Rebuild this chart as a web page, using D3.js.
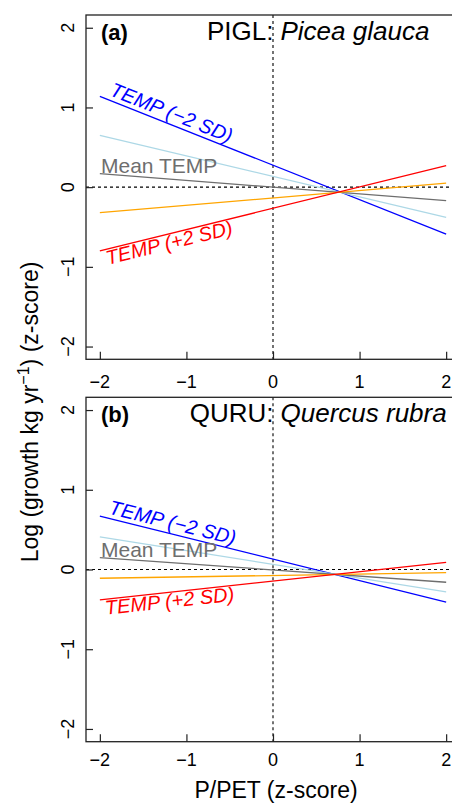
<!DOCTYPE html>
<html>
<head>
<meta charset="utf-8">
<script src="https://cdn.jsdelivr.net/npm/d3@7"></script>
<style>
  html, body { margin: 0; padding: 0; background: #fff; }
  svg { display: block; font-family: "Liberation Sans", Arial, Helvetica, sans-serif; }
</style>
</head>
<body>
<svg id="chart" width="452" height="803"></svg>
<script>
// ---------------- data ----------------
const pPET = [-2, 2];                       // x positions of line end points (z-score)
const xTicks = [-2, -1, 0, 1, 2];
const yTicks = [-2, -1, 0, 1, 2];
const seriesNames = ["TEMP (−2 SD)", "TEMP (−1 SD)", "Mean TEMP", "TEMP (+1 SD)", "TEMP (+2 SD)"];
const seriesColors = ["#0000ff", "#add8e6", "#6e6e6e", "#ffa500", "#ff0000"];

// PIGL: Picea glauca
const piglCold2 = [1.14, -0.59];
const piglCold1 = [0.65, -0.38];
const piglMean  = [0.17, -0.17];
const piglWarm1 = [-0.32, 0.05];
const piglWarm2 = [-0.80, 0.27];

// QURU: Quercus rubra
const quruCold2 = [0.67, -0.41];
const quruCold1 = [0.41, -0.28];
const quruMean  = [0.15, -0.16];
const quruWarm1 = [-0.11, -0.04];
const quruWarm2 = [-0.38, 0.09];

const panelLetters = ["(a)", "(b)"];
const panelCodes = ["PIGL:", "QURU:"];
const panelSpecies = ["Picea glauca", "Quercus rubra"];
const panelSeries = [
  [piglCold2, piglCold1, piglMean, piglWarm1, piglWarm2],
  [quruCold2, quruCold1, quruMean, quruWarm1, quruWarm2]
];

// ---------------- layout ----------------
const svg = d3.select("#chart");
const left = 86, right = 460;
const panels = [
  { top: 15, bottom: 359.3, tickLabelOffset: 29 },
  { top: 397.3, bottom: 741.7, tickLabelOffset: 24.6 }
];
const x = d3.scaleLinear().domain([-2.16, 2.16]).range([left, right]);

panels.forEach((p, pi) => {
  const y = d3.scaleLinear().domain([-2.16, 2.16]).range([p.bottom, p.top]);
  const g = svg.append("g");

  // reference dashed lines
  g.append("line")
    .attr("x1", left).attr("x2", right)
    .attr("y1", y(0)).attr("y2", y(0))
    .attr("stroke", "#000").attr("stroke-width", 1.1).attr("stroke-dasharray", "3,3");
  g.append("line")
    .attr("x1", x(0)).attr("x2", x(0))
    .attr("y1", p.top).attr("y2", p.bottom)
    .attr("stroke", "#000").attr("stroke-width", 1.1).attr("stroke-dasharray", "3,3");

  // series lines
  const line = d3.line().x((d, i) => x(pPET[i])).y(d => y(d));
  panelSeries[pi].forEach((vals, si) => {
    g.append("path")
      .datum(vals)
      .attr("d", line)
      .attr("fill", "none")
      .attr("stroke", seriesColors[si])
      .attr("stroke-width", 1.3);
  });

  // box
  g.append("rect")
    .attr("x", left).attr("y", p.top)
    .attr("width", right - left).attr("height", p.bottom - p.top)
    .attr("fill", "none").attr("stroke", "#222").attr("stroke-width", 1.3);

  // x ticks (inward) + labels
  const xAxis = d3.axisTop(x).tickValues(xTicks).tickSize(7.5).tickFormat("");
  g.append("g").attr("transform", `translate(0,${p.bottom})`).call(xAxis)
    .call(a => a.select(".domain").remove())
    .call(a => a.selectAll("line").attr("stroke", "#222").attr("stroke-width", 1.2));
  g.selectAll(".xlab").data(xTicks).enter().append("text")
    .attr("x", d => x(d)).attr("y", p.bottom + p.tickLabelOffset)
    .attr("text-anchor", "middle").attr("font-size", 18)
    .text(d => d < 0 ? "−" + Math.abs(d) : d);

  // y ticks (inward) + rotated labels
  const yAxis = d3.axisRight(y).tickValues(yTicks).tickSize(7).tickFormat("");
  g.append("g").attr("transform", `translate(${left},0)`).call(yAxis)
    .call(a => a.select(".domain").remove())
    .call(a => a.selectAll("line").attr("stroke", "#222").attr("stroke-width", 1.2));
  g.selectAll(".ylab").data(yTicks).enter().append("text")
    .attr("transform", d => `translate(74,${y(d)}) rotate(-90)`)
    .attr("text-anchor", "middle").attr("font-size", 18)
    .text(d => d < 0 ? "−" + Math.abs(d) : d);

  // panel letter
  g.append("text").attr("x", 101).attr("y", p.top + 24.5)
    .attr("font-size", 22).attr("font-weight", "bold").text(panelLetters[pi]);
  // species title, colon aligned at x = 0
  g.append("text").attr("x", x(0) + 0.5).attr("y", p.top + 25)
    .attr("text-anchor", "end").attr("font-size", 26).text(panelCodes[pi]);
  g.append("text").attr("x", x(0) + 7.5).attr("y", p.top + 25)
    .attr("font-size", 26).attr("font-style", "italic").text(panelSpecies[pi]);

  // in-plot series labels
  const vals = panelSeries[pi];
  const lineY = (v, px) => {
    const xv = x.invert(px);
    return y(v[0] + (v[1] - v[0]) * (xv - pPET[0]) / (pPET[1] - pPET[0]));
  };
  const angle = v => Math.atan2(y(v[1]) - y(v[0]), x(pPET[1]) - x(pPET[0])) * 180 / Math.PI;

  // cold label (above line)
  const cold = vals[0];
  g.append("text")
    .attr("transform", `translate(107,${lineY(cold, 107)}) rotate(${angle(cold)})`)
    .attr("dy", -4.5)
    .attr("font-size", 20).attr("font-style", "italic").attr("fill", seriesColors[0])
    .text(seriesNames[0]);

  // mean label
  g.append("text")
    .attr("x", 101).attr("y", y(vals[2][0]) - 1)
    .attr("font-size", 21).attr("fill", seriesColors[2])
    .text(seriesNames[2]);

  // warm label (below line)
  const warm = vals[4];
  g.append("text")
    .attr("transform", `translate(104,${lineY(warm, 104)}) rotate(${angle(warm)})`)
    .attr("dy", 15.5)
    .attr("font-size", 20).attr("font-style", "italic").attr("fill", seriesColors[4])
    .text(seriesNames[4]);
});

// axis titles
svg.append("text")
  .attr("x", 276).attr("y", 798)
  .attr("text-anchor", "middle").attr("font-size", 23)
  .text("P/PET (z-score)");

const yt = svg.append("text")
  .attr("transform", "translate(38,412) rotate(-90)")
  .attr("text-anchor", "middle").attr("font-size", 23);
yt.append("tspan").text("Log (growth kg yr");
yt.append("tspan").attr("font-size", 16).attr("dy", -9).text("−1");
yt.append("tspan").attr("dy", 9).text(") (z-score)");
</script>
</body>
</html>
